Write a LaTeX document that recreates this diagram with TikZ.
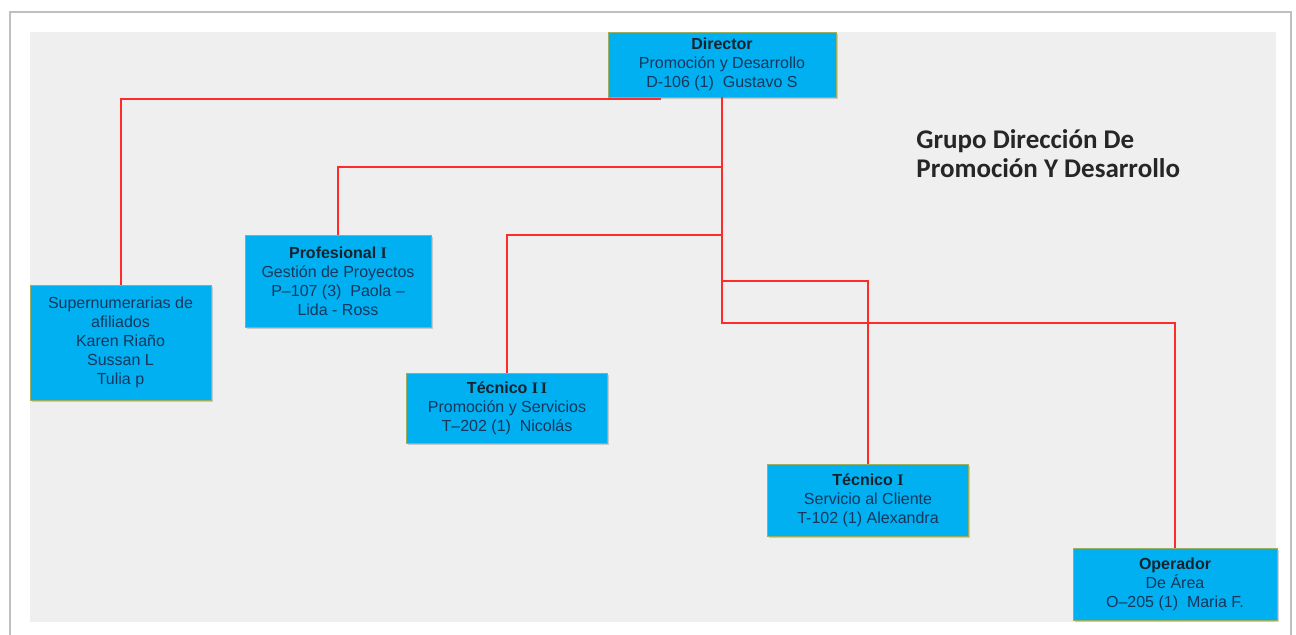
\documentclass[tikz,border=0pt]{standalone}
\usepackage{fontspec}
\setmainfont{Liberation Sans}
\newfontfamily\titlefont{Carlito}
\newfontfamily\romanfont{Liberation Serif}
\usepackage{tikz}
\usetikzlibrary{positioning}
\usetikzlibrary{shadows}
\newlength{\px}
\setlength{\px}{0.5pt}
\definecolor{boxblue}{HTML}{00B0F0}
\definecolor{boxedge}{HTML}{9BAF5E}
\definecolor{boxtext}{HTML}{17375E}
\definecolor{headtext}{HTML}{16232F}
\definecolor{linkred}{HTML}{FF2A2A}
\definecolor{panel}{HTML}{EFEFEF}
\newcommand{\head}[1]{{\bfseries\color{headtext}#1}}
\newcommand{\romI}{{\romanfont\bfseries I}}
\tikzstyle{post}=[draw=boxedge, line width=0.4pt, fill=boxblue, text=boxtext, align=center, inner sep=0pt, font=\fontsize{8}{9.5}\selectfont, drop shadow={shadow xshift=1.5\px, shadow yshift=-2\px, opacity=0.35}]
\tikzstyle{link}=[draw=linkred, line width=1pt]

\begin{document}
\begin{tikzpicture}[x=\px, y=-\px]

				\useasboundingbox (0,0) rectangle (1296,635);
				\fill[white] (0,0) rectangle (1296,635);
				\draw[black!25, line width=1pt, fill=white] (10,12) rectangle (1291,660);
				\fill[panel] (30,32) rectangle (1276,622);

				% puestos
				\node (dir) [post, minimum width=228\px, minimum height=65\px] at (722,64.5) {\head{Director}\\Promoción y Desarrollo\\D-106 (1)\ \ Gustavo S};
				\node (sup) [post, minimum width=181\px, minimum height=115\px] at (120.5,342.5) {Supernumerarias de\\afiliados\\Karen Riaño\\Sussan L\\Tulia p};
				\node (prof) [post, minimum width=186\px, minimum height=92\px] at (338,281) {\head{Profesional \romI}\\Gestión de Proyectos\\P--107 (3)\ \ Paola --\\Lida - Ross};
				\node (tec2) [post, minimum width=201\px, minimum height=70\px] at (507,408) {\head{Técnico \romI\,\romI}\\Promoción y Servicios\\T--202 (1)\ \ Nicolás};
				\node (tec1) [post, minimum width=201\px, minimum height=72\px] at (868,500) {\head{Técnico \romI}\\Servicio al Cliente\\T-102 (1) Alexandra};
				\node (oper) [post, minimum width=204\px, minimum height=72\px] at (1175,584) {\head{Operador}\\De Área\\O--205 (1)\ \ Maria F.};

				\node (title) [anchor=north west, inner sep=0pt, align=left, text=black!85, font=\titlefont\bfseries\fontsize{13.5}{14.5}\selectfont] at (916,129) {Grupo Dirección De\\Promoción Y Desarrollo};

				% uniones
				\coordinate (jsup) at (661,99);
				\coordinate (jprof) at (722,167);
				\coordinate (jtec2) at (722,235);
				\coordinate (jtec1) at (722,281);
				\coordinate (joper) at (722,323);

				\draw [link] (jsup) -| (sup.north);
				\draw [link] (dir.south) -- (joper) -| (oper.north);
				\draw [link] (jprof) -| (prof.north);
				\draw [link] (jtec2) -| (tec2.north);
				\draw [link] (jtec1) -| (tec1.north);
\end{tikzpicture}
\end{document}
